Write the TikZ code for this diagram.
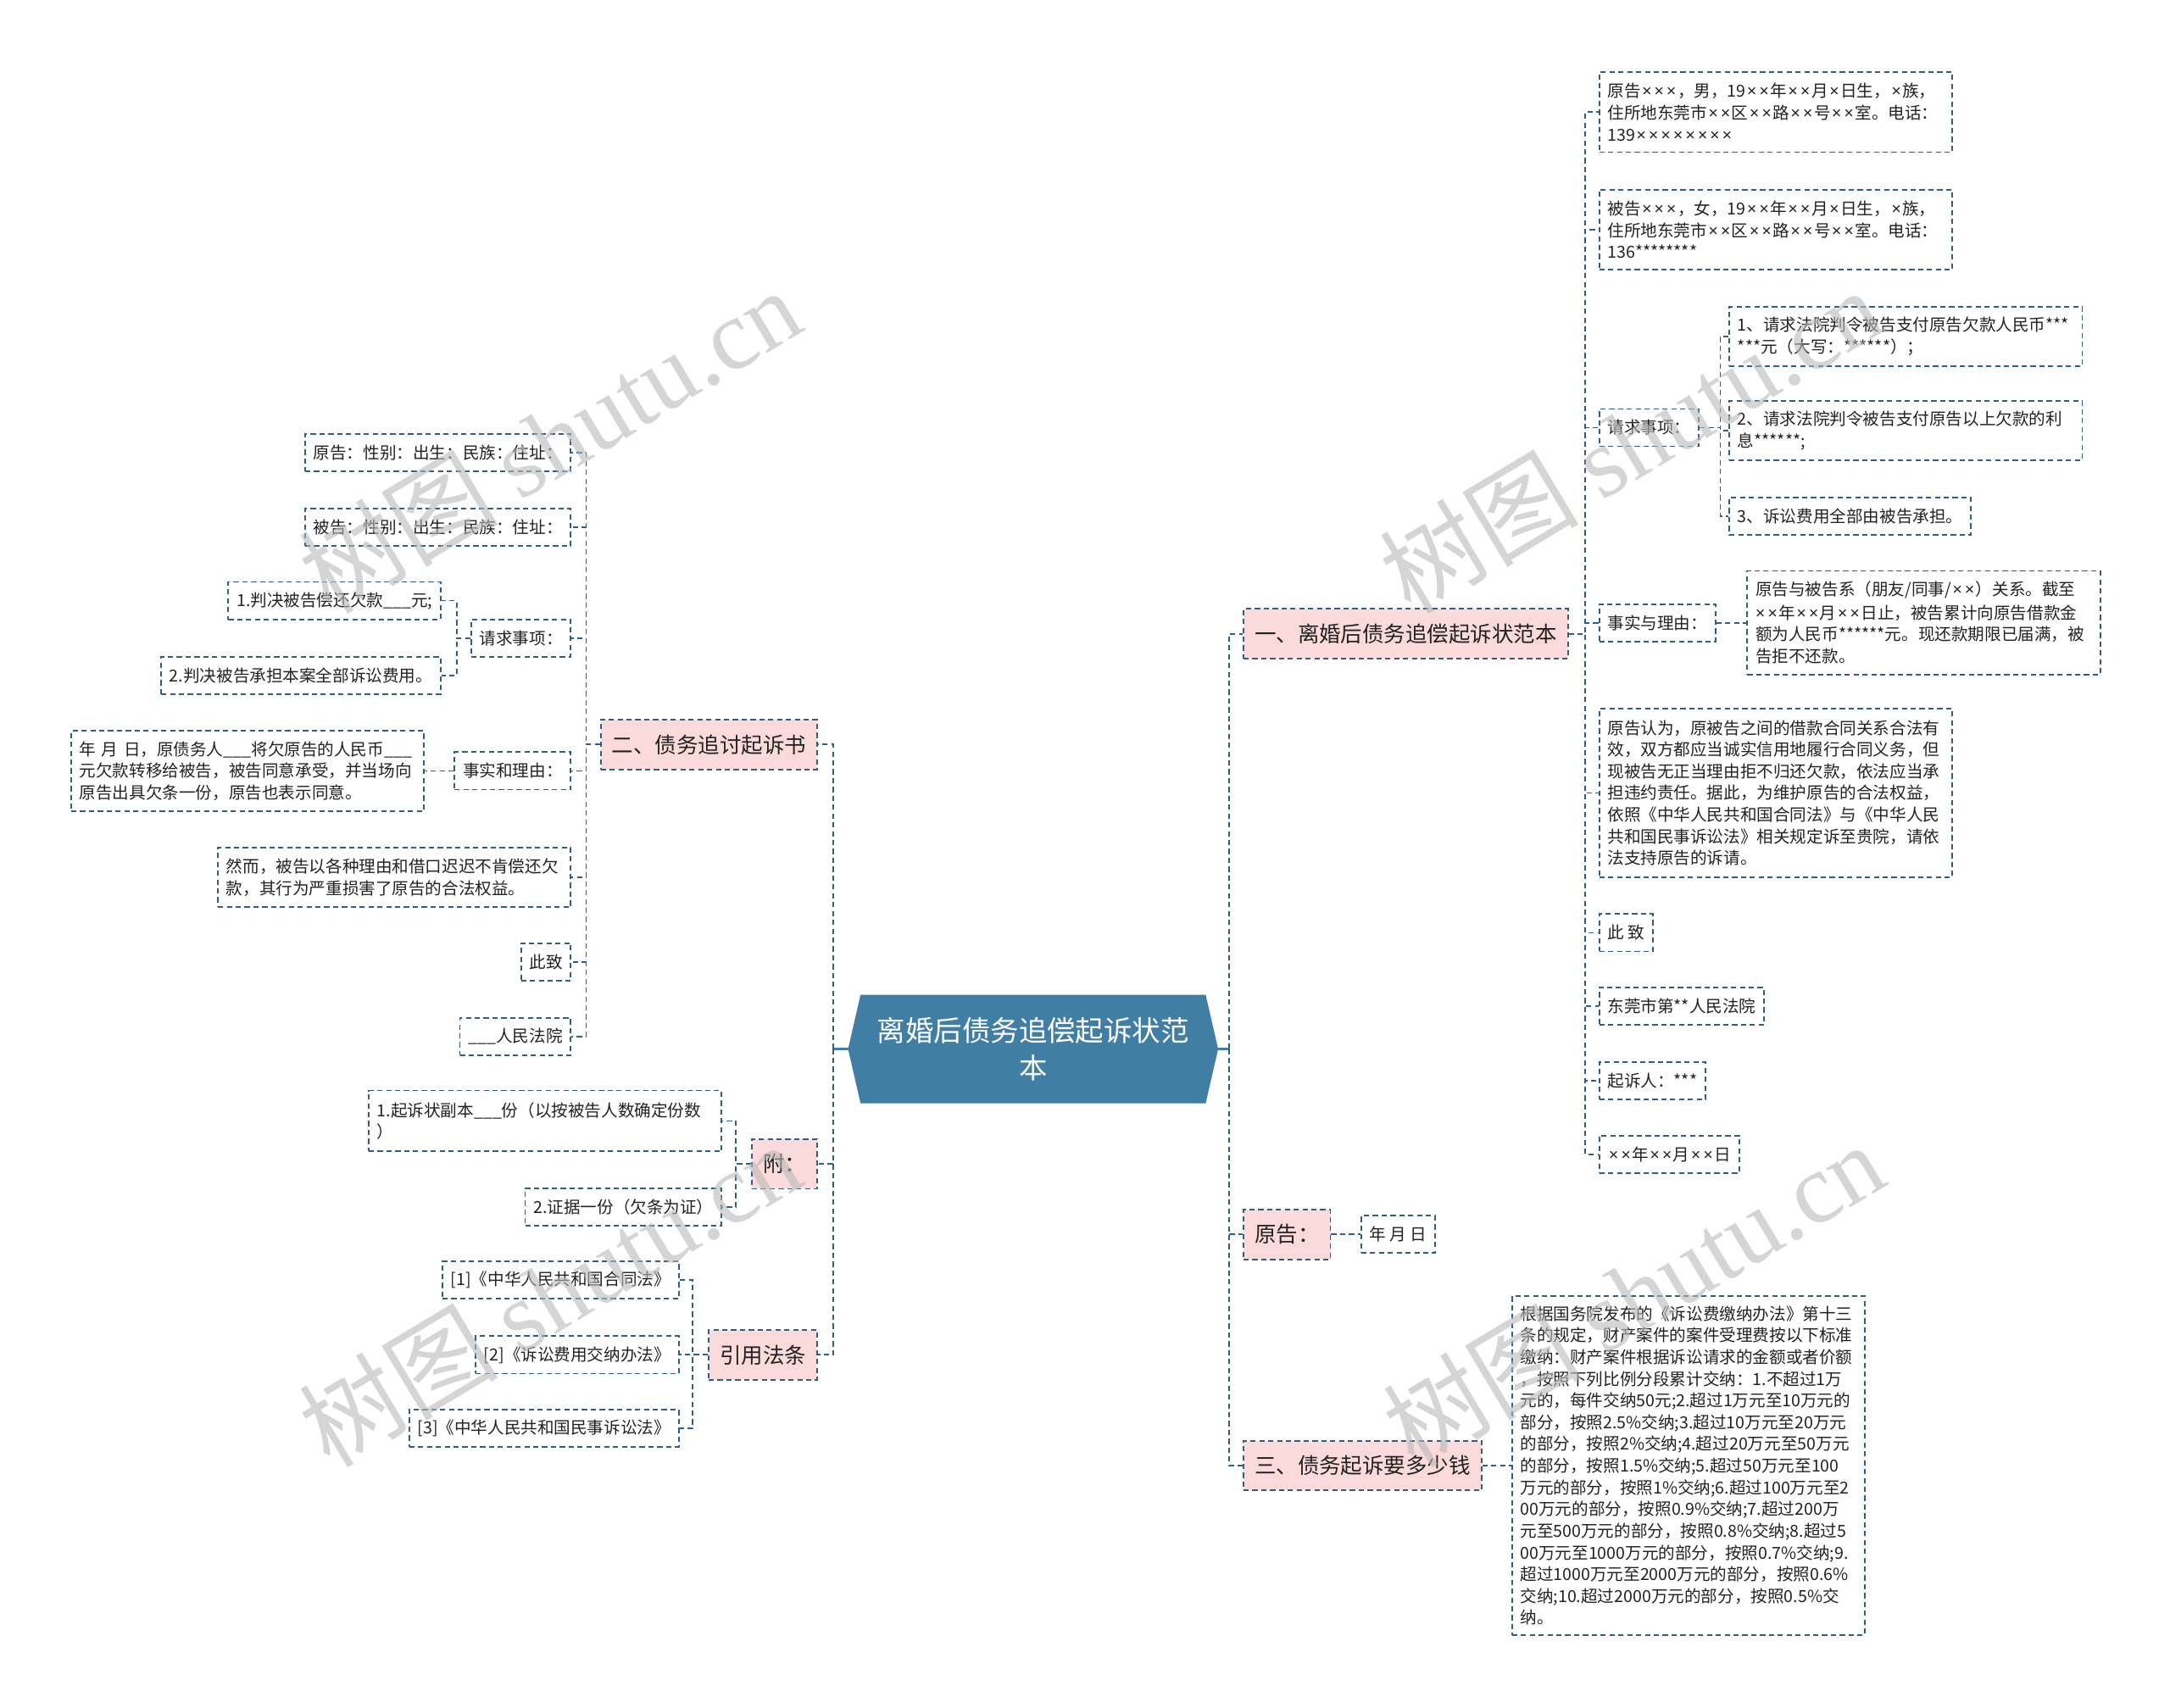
\documentclass[tikz,border=0pt]{standalone}
\usepackage{fontspec}
\setmainfont{Noto Sans CJK SC}
\newfontfamily\wmlatin{Liberation Serif}
\newfontfamily\xfont{Noto Sans}
\newcommand\xm{{\xfont\kern1pt×\kern1pt}}
\usetikzlibrary{backgrounds}
\definecolor{lineblue}{RGB}{47,94,126}
\definecolor{rootblue}{RGB}{65,126,166}
\definecolor{pinkfill}{RGB}{250,218,218}
\definecolor{txt}{RGB}{34,34,34}
\definecolor{wmgray}{RGB}{185,185,185}
\begin{document}
\begin{tikzpicture}[x=1pt,y=-1pt,
  conn/.style={draw=lineblue, line width=1.1pt, dash pattern=on 3.8pt off 2.6pt},
  rootline/.style={draw=rootblue, line width=1.6pt},
  leaf/.style={draw=lineblue, line width=1.1pt, dash pattern=on 3.8pt off 2.6pt, text=txt,
    font=\fontsize{12}{15.7}\selectfont, inner xsep=6pt, inner ysep=0pt, minimum height=27pt, align=left},
  wide/.style={leaf, text width=243pt},
  lvl/.style={draw=lineblue, fill=pinkfill, line width=1.1pt, dash pattern=on 3.8pt off 2.6pt, text=txt,
    font=\fontsize{15.6}{18}\selectfont, inner xsep=8pt, inner ysep=0pt, minimum height=36pt},
  rt/.style={anchor=west}, lf/.style={anchor=east},
  wmark/.style={rotate=31, text=wmgray, text opacity=0.6, font=\fontsize{72}{72}\selectfont, inner sep=0pt}
]
\begin{scope}[on background layer]
\fill[white] (0,0) rectangle (1568,1234);
\end{scope}
\useasboundingbox (0,0) rectangle (1568,1234);

% root
\node[font=\fontsize{20.5}{27}\selectfont, text=white, align=center, minimum width=267pt, minimum height=78pt, inner sep=0pt] (root) at (746.5,758) {离婚后债务追偿起诉状范\\本};
\begin{scope}[on background layer]
\fill[rootblue] ([xshift=9pt]root.north west) -- ([xshift=-9pt]root.north east) -- (root.east) -- ([xshift=-9pt]root.south east) -- ([xshift=9pt]root.south west) -- (root.west) -- cycle;
\end{scope}

% right level 1
\node[lvl, rt] (n1) at (898,458) {一、离婚后债务追偿起诉状范本};
\node[lvl, rt] (n2) at (898,892) {原告：};
\node[lvl, rt] (n3) at (898,1059) {三、债务起诉要多少钱};

% right children of n1
\node[wide, rt, minimum height=58pt] (r1) at (1155,81) {原告\xm\xm\xm，男，19\xm\xm 年\xm\xm 月\xm 日生，\xm 族，\\住所地东莞市\xm\xm 区\xm\xm 路\xm\xm 号\xm\xm 室。电话：\\139\xm\xm\xm\xm\xm\xm\xm\xm};
\node[wide, rt, minimum height=58pt] (r2) at (1155,166) {被告\xm\xm\xm，女，19\xm\xm 年\xm\xm 月\xm 日生，\xm 族，\\住所地东莞市\xm\xm 区\xm\xm 路\xm\xm 号\xm\xm 室。电话：\\136********};
\node[leaf, rt] (r3) at (1155,309) {请求事项：};
\node[wide, rt, minimum height=43pt] (r3a) at (1249,243) {1、请求法院判令被告支付原告欠款人民币***\\{}***元（大写：******）；};
\node[wide, rt, minimum height=43pt] (r3b) at (1249,311) {2、请求法院判令被告支付原告以上欠款的利\\息******;};
\node[leaf, rt] (r3c) at (1249,373) {3、诉讼费用全部由被告承担。};
\node[leaf, rt] (r4) at (1155,450) {事实与理由：};
\node[wide, rt, minimum height=75pt] (r4a) at (1262,450) {原告与被告系（朋友/同事/\xm\xm）关系。截至\\\xm\xm 年\xm\xm 月\xm\xm 日止，被告累计向原告借款金\\额为人民币******元。现还款期限已届满，被\\告拒不还款。};
\node[wide, rt, minimum height=122pt] (r5) at (1155,573) {原告认为，原被告之间的借款合同关系合法有\\效，双方都应当诚实信用地履行合同义务，但\\现被告无正当理由拒不归还欠款，依法应当承\\担违约责任。据此，为维护原告的合法权益，\\依照《中华人民共和国合同法》与《中华人民\\共和国民事诉讼法》相关规定诉至贵院，请依\\法支持原告的诉请。};
\node[leaf, rt] (r6) at (1155,674) {此 致};
\node[leaf, rt] (r7) at (1155,727) {东莞市第**人民法院};
\node[leaf, rt] (r8) at (1155,781) {起诉人：***};
\node[leaf, rt] (r9) at (1155,834) {\xm\xm 年\xm\xm 月\xm\xm 日};

\node[leaf, rt] (n2a) at (983,892) {年 月 日};
\node[wide, rt, minimum height=245pt] (n3a) at (1092,1059) {根据国务院发布的《诉讼费缴纳办法》第十三\\条的规定，财产案件的案件受理费按以下标准\\缴纳：财产案件根据诉讼请求的金额或者价额\\，按照下列比例分段累计交纳：1.不超过1万\\元的，每件交纳50元;2.超过1万元至10万元的\\部分，按照2.5\%交纳;3.超过10万元至20万元\\的部分，按照2\%交纳;4.超过20万元至50万元\\的部分，按照1.5\%交纳;5.超过50万元至100\\万元的部分，按照1\%交纳;6.超过100万元至2\\00万元的部分，按照0.9\%交纳;7.超过200万\\元至500万元的部分，按照0.8\%交纳;8.超过5\\00万元至1000万元的部分，按照0.7\%交纳;9.\\超过1000万元至2000万元的部分，按照0.6\%\\交纳;10.超过2000万元的部分，按照0.5\%交\\纳。};

% left level 1
\node[lvl, lf] (m1) at (591,538) {二、债务追讨起诉书};
\node[lvl, lf] (m2) at (591,841) {附：};
\node[lvl, lf] (m3) at (591,979) {引用法条};

% left children
\node[leaf, lf] (l1) at (413,327) {原告：性别：出生：民族：住址：};
\node[leaf, lf] (l2) at (413,381) {被告：性别：出生：民族：住址：};
\node[leaf, lf] (l3) at (413,461) {请求事项：};
\node[leaf, lf] (l3a) at (319,434) {1.判决被告偿还欠款\_\_\_元;};
\node[leaf, lf] (l3b) at (319,488) {2.判决被告承担本案全部诉讼费用。};
\node[leaf, lf] (l4) at (413,557) {事实和理由：};
\node[wide, lf, minimum height=58pt] (l4a) at (307,557) {年 月 日，原债务人\_\_\_将欠原告的人民币\_\_\_\\元欠款转移给被告，被告同意承受，并当场向\\原告出具欠条一份，原告也表示同意。};
\node[wide, lf, minimum height=43pt] (l5) at (413,634) {然而，被告以各种理由和借口迟迟不肯偿还欠\\款，其行为严重损害了原告的合法权益。};
\node[leaf, lf] (l6) at (413,695) {此致};
\node[leaf, lf] (l7) at (413,749) {\_\_\_人民法院};
\node[wide, lf, minimum height=44pt] (l8) at (522,810) {1.起诉状副本\_\_\_份（以按被告人数确定份数\\）};
\node[leaf, lf] (l9) at (522,872) {2.证据一份（欠条为证）};
\node[leaf, lf] (l10) at (491,925) {[1]《中华人民共和国合同法》};
\node[leaf, lf] (l11) at (491,979) {[2]《诉讼费用交纳办法》};
\node[leaf, lf] (l12) at (491,1032) {[3]《中华人民共和国民事诉讼法》};

% connectors
\coordinate (tR) at (888,758);
\coordinate (tL) at (602,758);
\draw[rootline] (root.east) -- (tR);
\draw[rootline] (root.west) -- (tL);
\foreach \n in {n1,n2,n3} \draw[conn] (tR) |- (\n.west);
\foreach \n in {m1,m2,m3} \draw[conn] (tL) |- (\n.east);
\foreach \n in {r1,r2,r3,r4,r5,r6,r7,r8,r9} \draw[conn] (n1.east) -- ++(12,0) |- (\n.west);
\foreach \n in {r3a,r3b,r3c} \draw[conn] (r3.east) -- ++(15,0) |- (\n.west);
\draw[conn] (r4.east) -- (r4a.west);
\draw[conn] (n2.east) -- (n2a.west);
\draw[conn] (n3.east) -- (n3a.west);
\foreach \n in {l1,l2,l3,l4,l5,l6,l7} \draw[conn] (m1.west) -- ++(-10,0) |- (\n.east);
\foreach \n in {l3a,l3b} \draw[conn] (l3.west) -- ++(-10,0) |- (\n.east);
\draw[conn] (l4.west) -- (l4a.east);
\foreach \n in {l8,l9} \draw[conn] (m2.west) -- ++(-11,0) |- (\n.east);
\foreach \n in {l10,l11,l12} \draw[conn] (m3.west) -- ++(-11,0) |- (\n.east);

% watermarks
\node[wmark] (w1) at (397,318) {树图 {\wmlatin shutu.cn}};
\node[wmark] (w2) at (1178,318) {树图 {\wmlatin shutu.cn}};
\node[wmark] (w3) at (397,935) {树图 {\wmlatin shutu.cn}};
\node[wmark] (w4) at (1180,935) {树图 {\wmlatin shutu.cn}};
\end{tikzpicture}
\end{document}
